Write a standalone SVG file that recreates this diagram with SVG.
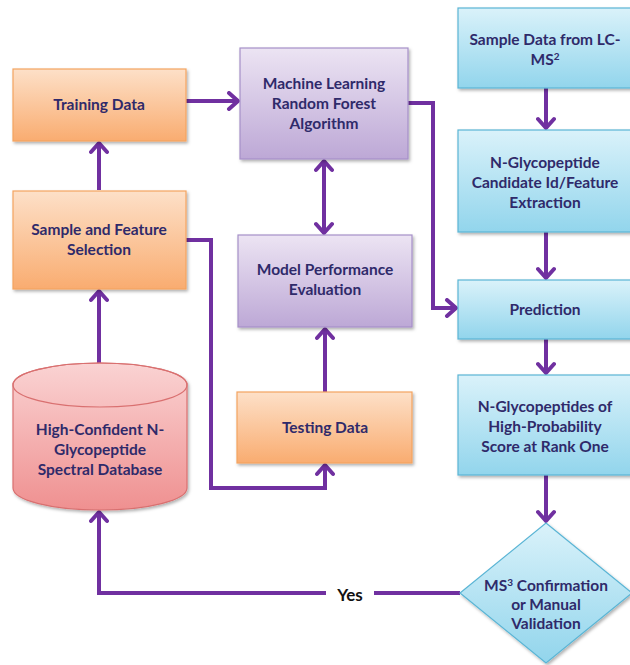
<svg xmlns="http://www.w3.org/2000/svg" width="630" height="665" viewBox="0 0 630 665">
<style>
text{font-family:Lato,"Open Sans","Liberation Sans",sans-serif;font-weight:bold;font-size:15.5px;fill:#2f2a6a;text-anchor:middle}
.or{fill:url(#gOr);stroke:#f4a460;stroke-width:1.2}
.pu{fill:url(#gPu);stroke:#a690c8;stroke-width:1.2}
.bl{fill:url(#gBl);stroke:#5ab5d5;stroke-width:1.2}
.pk{fill:url(#gPk);stroke:#d97070;stroke-width:1.2}
.sh{filter:url(#sh)}
.c{fill:none;stroke:#7030a0;stroke-width:4}
.yes{fill:#111;font-size:17px}
</style>
<defs>
<linearGradient id="gOr" x1="0" y1="0" x2="0" y2="1"><stop offset="0" stop-color="#fde0c8"/><stop offset="1" stop-color="#f9ac70"/></linearGradient>
<linearGradient id="gPu" x1="0" y1="0" x2="0" y2="1"><stop offset="0" stop-color="#ece4f3"/><stop offset="1" stop-color="#bda8d6"/></linearGradient>
<linearGradient id="gBl" x1="0" y1="0" x2="0" y2="1"><stop offset="0" stop-color="#daf2fa"/><stop offset="1" stop-color="#92d5ec"/></linearGradient>
<linearGradient id="gPk" x1="0" y1="0" x2="0" y2="1"><stop offset="0" stop-color="#fad3d3"/><stop offset="1" stop-color="#ef9090"/></linearGradient>
<filter id="sh" x="-10%" y="-10%" width="125%" height="130%"><feDropShadow dx="1.5" dy="2" stdDeviation="1.5" flood-color="#000" flood-opacity="0.3"/></filter>
<marker id="ah" viewBox="0 0 20 20" refX="17" refY="10" markerWidth="20" markerHeight="20" markerUnits="userSpaceOnUse" orient="auto-start-reverse"><path d="M8,2 L17,10 L8,18" fill="none" stroke="#7030a0" stroke-width="4" stroke-linecap="round" stroke-linejoin="round"/></marker>
</defs>

<g id="connectors">
<path class="c" d="M99,190 V143" marker-end="url(#ah)"/>
<path class="c" d="M186,101 H238" marker-end="url(#ah)"/>
<path class="c" d="M324,161 V233" marker-start="url(#ah)" marker-end="url(#ah)"/>
<path class="c" d="M408,103 H433 V308 H456" marker-end="url(#ah)"/>
<path class="c" d="M186,240 H211 V488 H325 V465" marker-end="url(#ah)"/>
<path class="c" d="M325,392 V329" marker-end="url(#ah)"/>
<path class="c" d="M99,363 V291" marker-end="url(#ah)"/>
<path class="c" d="M546,88 V128" marker-end="url(#ah)"/>
<path class="c" d="M546,232 V278" marker-end="url(#ah)"/>
<path class="c" d="M546,339 V373" marker-end="url(#ah)"/>
<path class="c" d="M546,475 V521" marker-end="url(#ah)"/>
<path class="c" d="M460,593 H99 V512" marker-end="url(#ah)"/>
<rect x="326" y="583" width="48" height="22" fill="#fff"/>
<text class="yes" x="350" y="601">Yes</text>
</g>

<g id="training-data">
<rect class="or sh" x="13" y="69" width="173" height="72"/>
<text x="99" y="110">Training Data</text>
</g>
<g id="sample-feature-selection">
<rect class="or sh" x="13" y="191" width="173" height="98"/>
<text x="99" y="235">Sample and Feature</text>
<text x="99" y="255">Selection</text>
</g>
<g id="database">
<path class="pk sh" d="M13,385 V488 A87,22 0 0 0 187,488 V385 A87,22 0 0 0 13,385 Z"/>
<ellipse cx="100" cy="385" rx="87" ry="22" fill="none" stroke="#d97070" stroke-width="1.2"/>
<text x="100" y="435">High-Confident N-</text>
<text x="100" y="455">Glycopeptide</text>
<text x="100" y="475">Spectral Database</text>
</g>
<g id="ml-algorithm">
<rect class="pu sh" x="240" y="48" width="168" height="111"/>
<text x="324" y="89">Machine Learning</text>
<text x="324" y="109">Random Forest</text>
<text x="324" y="129">Algorithm</text>
</g>
<g id="model-performance">
<rect class="pu sh" x="238" y="235" width="174" height="92"/>
<text x="325" y="275">Model Performance</text>
<text x="325" y="295">Evaluation</text>
</g>
<g id="testing-data">
<rect class="or sh" x="237" y="392" width="175" height="71"/>
<text x="325" y="433">Testing Data</text>
</g>
<g id="sample-data-lcms">
<rect class="bl sh" x="458" y="8" width="174" height="80"/>
<text x="545" y="45">Sample Data from LC-</text>
<text x="545" y="65">MS<tspan font-size="10" dy="-5">2</tspan></text>
</g>
<g id="candidate-extraction">
<rect class="bl sh" x="458" y="130" width="174" height="102"/>
<text x="545" y="168">N-Glycopeptide</text>
<text x="545" y="188">Candidate Id/Feature</text>
<text x="545" y="208">Extraction</text>
</g>
<g id="prediction">
<rect class="bl sh" x="458" y="280" width="174" height="59"/>
<text x="545" y="315">Prediction</text>
</g>
<g id="high-probability">
<rect class="bl sh" x="458" y="375" width="174" height="100"/>
<text x="545" y="412">N-Glycopeptides of</text>
<text x="545" y="432">High-Probability</text>
<text x="545" y="452">Score at Rank One</text>
</g>
<g id="ms3-validation">
<path class="bl sh" d="M546,523 L632,593 L546,663 L460,593 Z"/>
<text x="546" y="591">MS<tspan font-size="10" dy="-5">3</tspan><tspan dy="5"> Confirmation</tspan></text>
<text x="546" y="610">or Manual</text>
<text x="546" y="629">Validation</text>
</g>
</svg>
